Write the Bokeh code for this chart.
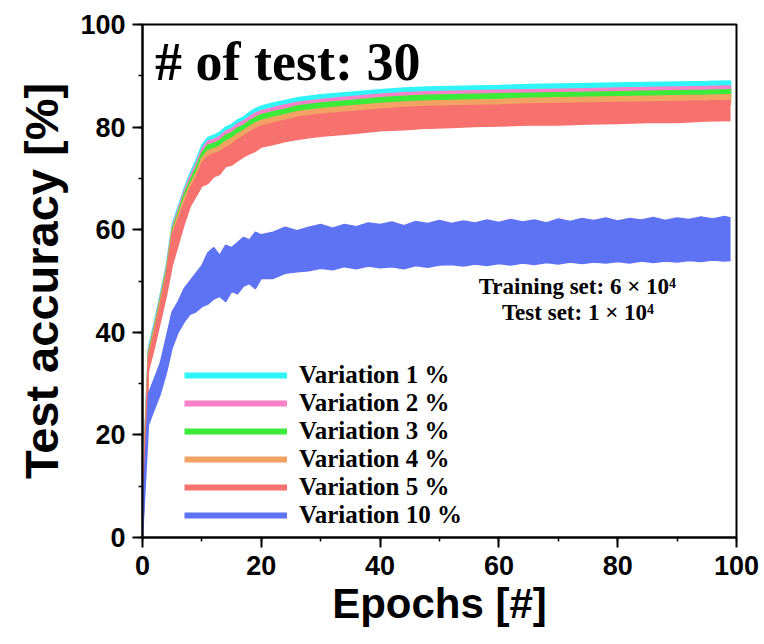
from bokeh.plotting import figure
from bokeh.models import Range1d, SingleIntervalTicker, Legend, LegendItem, Label
from bokeh.embed import file_html
from bokeh.resources import INLINE

# ---------------- data ----------------
EPOCHS_C = [0, 1, 2, 3, 4, 5, 6, 7, 8, 9, 10, 11, 12, 13, 14, 15, 16, 17, 18, 19, 20,
            22, 24, 26, 28, 30, 33, 36, 40, 44, 48, 52, 56, 60, 65, 70, 75, 80, 85, 90, 95, 99]
EPOCHS_LO = [0, 1, 3, 5, 8, 10, 15, 20, 30, 40, 60, 80, 99]

# upper envelopes of the 30 runs
V1_HI = [10, 37, 42, 47.5, 53, 61, 64.5, 68, 71, 73.5, 76.5, 78, 78.4, 79, 80, 80.5, 81.4, 82, 82.9, 83.6, 84.1,
         84.7, 85.2, 85.7, 86.0, 86.3, 86.6, 86.9, 87.3, 87.6, 87.8, 87.9, 88.0, 88.1, 88.3, 88.4, 88.5, 88.6, 88.7, 88.8, 88.9, 89.0]
V2_HI = [9, 36.5, 41.5, 47, 52.5, 60.5, 64, 67.5, 70.4, 72.8, 75.8, 77.3, 77.6, 78.2, 79.2, 79.7, 80.6, 81.2, 82.0, 82.7, 83.2,
         83.8, 84.3, 84.8, 85.1, 85.4, 85.7, 86.0, 86.4, 86.7, 86.9, 87.0, 87.1, 87.2, 87.3, 87.4, 87.5, 87.6, 87.7, 87.8, 87.9, 88.0]
V3_HI = [8, 36, 41, 46.5, 52, 60, 63.4, 66.8, 69.6, 72, 75, 76.5, 76.8, 77.4, 78.4, 78.9, 79.8, 80.4, 81.2, 81.9, 82.4,
         83.0, 83.5, 84.1, 84.4, 84.7, 85.0, 85.3, 85.7, 86.0, 86.2, 86.3, 86.4, 86.5, 86.6, 86.7, 86.8, 86.9, 87.0, 87.1, 87.2, 87.3]
V4_HI = [7, 35.5, 40.5, 46, 51.5, 59.5, 62.8, 66, 68.8, 71, 74, 75.4, 75.8, 76.3, 77.2, 77.8, 78.7, 79.3, 80.1, 80.8, 81.3,
         81.9, 82.4, 83.0, 83.3, 83.6, 83.9, 84.2, 84.6, 84.9, 85.1, 85.2, 85.3, 85.4, 85.6, 85.7, 85.8, 85.9, 86.0, 86.1, 86.2, 86.3]
V5_HI = [6, 35, 40, 45.5, 51, 59, 62, 65, 68, 70, 73, 74.3, 74.8, 75.2, 76, 76.6, 77.6, 78.2, 79.0, 79.7, 80.2,
         80.8, 81.3, 81.9, 82.2, 82.5, 82.8, 83.1, 83.5, 83.8, 84.0, 84.1, 84.2, 84.3, 84.5, 84.6, 84.7, 84.8, 84.9, 85.0, 85.1, 85.2]
# lower envelopes
V5_LO = [0, 32.5, 37, 42, 47, 53, 57, 61, 64.5, 66.5, 68.5, 69, 70.3, 70.8, 72.3, 72.6, 73.4, 74.2, 74.8, 75.3, 76.1,
         76.6, 77.2, 77.6, 77.9, 78.2, 78.5, 78.8, 79.3, 79.5, 79.8, 79.9, 80.1, 80.2, 80.4, 80.4, 80.6, 80.7, 80.9, 80.9, 81.2, 81.3]
V1_LO = [0, 34, 44, 57, 67, 72.5, 77.5, 81.5, 84, 85.3, 86.2, 86.8, 87.3]
V2_LO = [0, 33.5, 43.5, 56, 66, 71.5, 76.5, 80.5, 83, 84.3, 85.2, 85.8, 86.3]
V3_LO = [0, 33.5, 43, 55, 65, 70.5, 75.5, 79.5, 82, 83.3, 84.2, 84.8, 85.3]
V4_LO = [0, 33, 42.5, 54.5, 64.5, 70, 75, 78.5, 81, 82.3, 83.2, 83.8, 84.3]

EPOCHS_B = [0, 1, 2, 3, 4, 5, 6, 7, 8, 9, 10, 11, 12, 13, 14, 15, 16, 17, 18, 19, 20,
            22, 24, 26, 28, 30, 32, 34, 36, 38, 40, 42, 44, 46, 48, 50, 52, 54, 56, 58, 60,
            62, 64, 66, 68, 70, 72, 74, 76, 78, 80, 82, 84, 86, 88, 90, 92, 94, 96, 98, 99]
V10_HI = [4, 28, 31, 34, 39, 44, 46, 48.5, 50, 51.5, 53, 55.5, 56.5, 55, 57, 56.5, 57.5, 58.5, 58, 59.5, 59,
          59.5, 60.5, 59.8, 60.5, 61.0, 60.3, 61.0, 60.6, 61.3, 61.0, 61.5, 60.8, 61.6, 61.2, 61.8, 61.2, 61.7, 61.3, 61.9, 61.4,
          62.0, 61.5, 61.9, 61.3, 62.1, 61.6, 62.2, 61.8, 62.3, 61.7, 62.2, 61.9, 62.4, 61.8, 62.3, 62.0, 62.5, 62.1, 62.6, 62.3]
V10_LO = [0, 22, 25, 28, 32, 37, 40, 42, 43.5, 44, 45, 45.5, 46.5, 47, 46, 48, 47.5, 49, 49.5, 48.5, 50.5,
          50.5, 51.5, 51.8, 52.0, 52.5, 52.2, 52.8, 52.4, 52.9, 52.6, 52.8, 52.4, 53.0, 52.7, 53.1, 53.2, 52.9, 53.3, 53.0, 53.4,
          53.1, 53.5, 53.2, 53.6, 53.3, 53.7, 53.4, 53.7, 53.5, 53.8, 53.5, 53.9, 53.6, 53.9, 53.7, 54.0, 53.8, 54.1, 53.9, 54.0]

LABELS = ["Variation 1 %", "Variation 2 %", "Variation 3 %", "Variation 4 %", "Variation 5 %", "Variation 10 %"]
COLORS = ["#30F5F8", "#FA80C8", "#3AEB3A", "#F2A364", "#F7716E", "#5E73F4"]

TITLE = "# of test: 30"
NOTE1 = "Training set: 6 \u00d7 10\u2074"
NOTE2 = "Test set: 1 \u00d7 10\u2074"

# ---------------- figure ----------------
p = figure(width=764, height=644, x_range=Range1d(0, 100), y_range=Range1d(0, 100),
           output_backend="svg", toolbar_location=None,
           min_border_left=142, min_border_right=28, min_border_top=24, min_border_bottom=107)
p.xgrid.visible = False
p.ygrid.visible = False
p.outline_line_color = "black"
p.outline_line_width = 2
p.outline_line_alpha = 1.0
p.background_fill_color = "white"
p.border_fill_color = "white"

# bands of 1-4 % (upper edge over fine grid, lower edge over coarse grid)
for hi, lo, c in [(V1_HI, V1_LO, COLORS[0]), (V2_HI, V2_LO, COLORS[1]),
                  (V3_HI, V3_LO, COLORS[2]), (V4_HI, V4_LO, COLORS[3])]:
    xs = EPOCHS_C + EPOCHS_LO[::-1]
    ys = hi + lo[::-1]
    p.patch(xs, ys, fill_color=c, line_color=c, line_width=1.5)

# 5 %
p.varea(x=EPOCHS_C, y1=V5_LO, y2=V5_HI, fill_color=COLORS[4])
p.line(EPOCHS_C, V5_HI, line_color=COLORS[4], line_width=1.5)
p.line(EPOCHS_C, V5_LO, line_color=COLORS[4], line_width=1.5)

# 10 %
p.varea(x=EPOCHS_B, y1=V10_LO, y2=V10_HI, fill_color=COLORS[5])
p.line(EPOCHS_B, V10_HI, line_color=COLORS[5], line_width=1.5)
p.line(EPOCHS_B, V10_LO, line_color=COLORS[5], line_width=1.5)

# legend proxies (no visible data)
items = []
NAN = float("nan")
for lab, c in zip(LABELS, COLORS):
    r = p.line(x=[NAN, NAN], y=[NAN, NAN], line_color=c, line_width=6)
    items.append(LegendItem(label=lab, renderers=[r]))
legend = Legend(items=items, location=(42, 8), orientation="vertical",
                glyph_width=103, glyph_height=28, label_height=28, label_standoff=12,
                spacing=0, padding=0, margin=0,
                border_line_alpha=0, background_fill_alpha=0,
                label_text_font="Liberation Serif", label_text_font_style="bold",
                label_text_font_size="25px", label_text_color="black")
p.add_layout(legend)

# axes
for ax in (p.xaxis[0], p.yaxis[0]):
    ax.ticker = SingleIntervalTicker(interval=20, num_minor_ticks=2)
    ax.axis_line_width = 2
    ax.axis_line_color = "black"
    ax.major_tick_line_width = 2
    ax.major_tick_line_color = "black"
    ax.minor_tick_line_width = 1.5
    ax.minor_tick_line_color = "black"
    ax.major_tick_out = 10
    ax.major_tick_in = 0
    ax.minor_tick_out = 4
    ax.minor_tick_in = 0
    ax.major_label_text_font = "Liberation Sans"
    ax.major_label_text_font_style = "bold"
    ax.major_label_text_font_size = "27px"
    ax.major_label_text_color = "black"
    ax.axis_label_text_font = "Liberation Sans"
    ax.axis_label_text_font_style = "bold"
    ax.axis_label_text_color = "black"

p.xaxis.axis_label = "Epochs [#]"
p.yaxis.axis_label = "Test accuracy [%]"
p.xaxis.axis_label_text_font_size = "42px"
p.yaxis.axis_label_text_font_size = "47px"
p.xaxis.major_label_standoff = 8
p.yaxis.major_label_standoff = 7
p.xaxis.axis_label_standoff = 2
p.yaxis.axis_label_standoff = 9

# texts
p.add_layout(Label(x=2.1, y=92.6, text=TITLE, text_font="Liberation Serif", text_font_style="bold",
                   text_font_size="54px", text_color="black", text_baseline="alphabetic"))
p.add_layout(Label(x=73.2, y=49.0, text=NOTE1, text_font="Liberation Serif", text_font_style="bold",
                   text_font_size="23px", text_color="black", text_align="center", text_baseline="alphabetic"))
p.add_layout(Label(x=73.3, y=43.8, text=NOTE2, text_font="Liberation Serif", text_font_style="bold",
                   text_font_size="23px", text_color="black", text_align="center", text_baseline="alphabetic"))

open("out.html", "w").write(file_html(p, INLINE))
